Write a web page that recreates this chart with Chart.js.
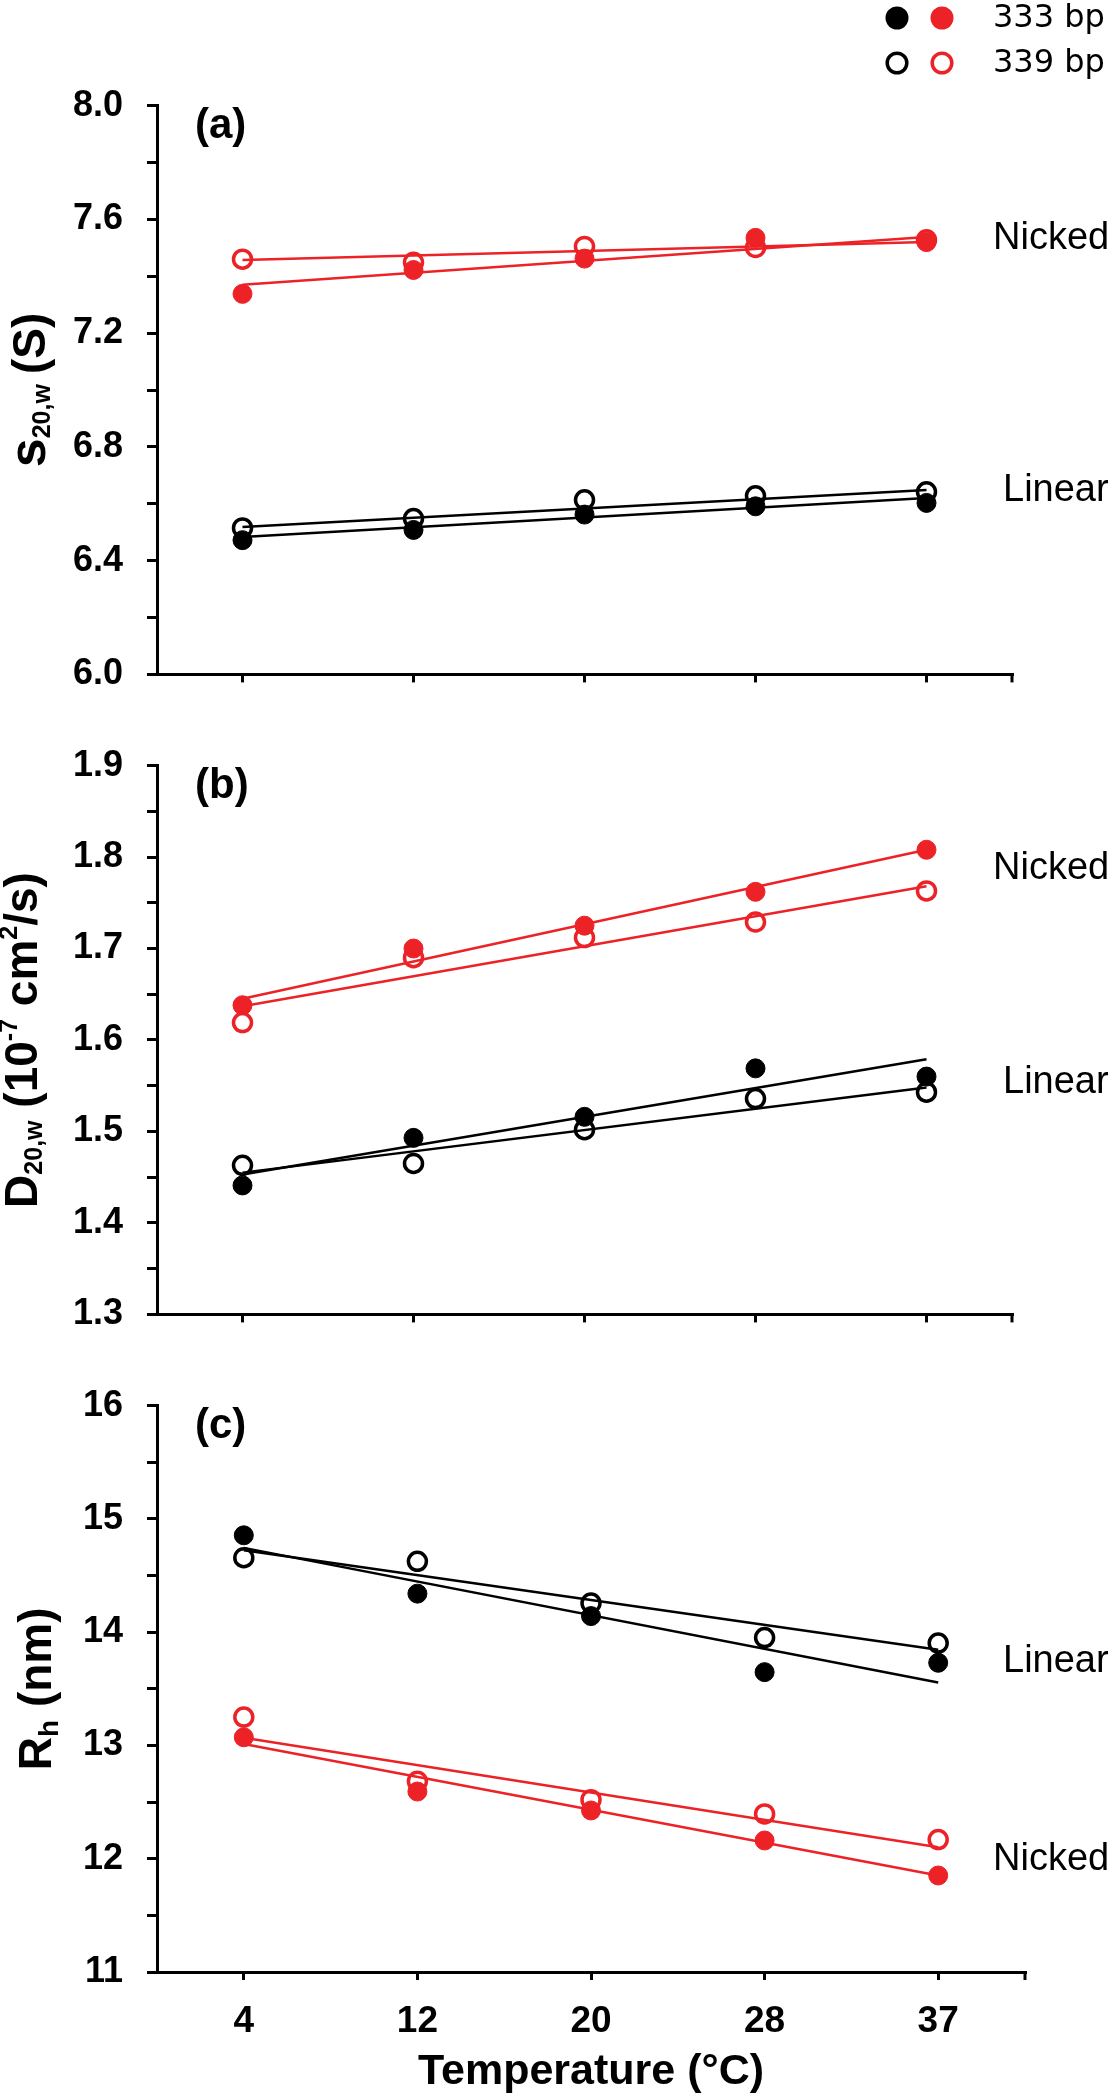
<!DOCTYPE html>
<html>
<head>
<meta charset="utf-8">
<script src="https://cdn.jsdelivr.net/npm/chart.js@4.4.1/dist/chart.umd.min.js"></script>
<style>
  html, body { margin: 0; padding: 0; background: #fff; }
  body { width: 1116px; height: 2100px; position: relative; overflow: hidden; }
  canvas { position: absolute; left: 0; display: block; }
</style>
</head>
<body>
<canvas id="chartA" width="1116" height="720" style="top:0px"></canvas>
<canvas id="chartB" width="1116" height="640" style="top:720px"></canvas>
<canvas id="chartC" width="1116" height="740" style="top:1360px"></canvas>
<script>
const temps = ["4", "12", "20", "28", "37"];

// (a) s20,w (S)
const sNicked333 = [7.338, 7.422, 7.462, 7.535, 7.520];
const sNicked339 = [7.460, 7.449, 7.505, 7.501, 7.528];
const sLinear333 = [6.472, 6.508, 6.562, 6.591, 6.603];
const sLinear339 = [6.515, 6.548, 6.614, 6.628, 6.642];
const sFitNicked333 = [7.370, 7.538];
const sFitNicked339 = [7.457, 7.520];
const sFitLinear333 = [6.483, 6.620];
const sFitLinear339 = [6.518, 6.648];

// (b) D20,w (10^-7 cm2/s)
const dNicked333 = [1.638, 1.700, 1.725, 1.762, 1.808];
const dNicked339 = [1.619, 1.690, 1.712, 1.729, 1.763];
const dLinear333 = [1.441, 1.493, 1.516, 1.569, 1.560];
const dLinear339 = [1.463, 1.465, 1.502, 1.536, 1.543];
const dFitNicked333 = [1.645, 1.808];
const dFitNicked339 = [1.637, 1.768];
const dFitLinear333 = [1.453, 1.579];
const dFitLinear339 = [1.455, 1.548];

// (c) Rh (nm)
const rLinear333 = [14.855, 14.340, 14.142, 13.647, 13.730];
const rLinear339 = [14.657, 14.625, 14.257, 13.952, 13.904];
const rNicked333 = [13.072, 12.593, 12.426, 12.161, 11.852];
const rNicked339 = [13.250, 12.684, 12.521, 12.395, 12.169];
const rFitLinear333 = [14.744, 13.556];
const rFitLinear339 = [14.724, 13.845];
const rFitNicked333 = [13.013, 11.852];
const rFitNicked339 = [13.068, 12.101];

const RED = "#ec2227";
const BLACK = "#000000";
const SANS = "'Liberation Sans', Arial, sans-serif";
const WIDE = "'DejaVu Sans', Verdana, sans-serif";

function points(values, color, filled) {
  return {
    data: values,
    showLine: false,
    order: 1,
    pointRadius: filled ? 9.5 : 9,
    pointBorderWidth: filled ? 1 : 3.5,
    pointBorderColor: color,
    pointBackgroundColor: filled ? color : "transparent"
  };
}

function fitLine(ends, color) {
  return {
    data: [ends[0], null, null, null, ends[1]],
    spanGaps: true,
    order: 2,
    borderColor: color,
    borderWidth: 2.5,
    pointRadius: 0,
    fill: false
  };
}

// rotated axis title with sub/superscripts: [text, size, baselineShift]
function richTitle(ctx, parts, x, y) {
  const widths = [];
  let total = 0;
  parts.forEach(p => {
    ctx.font = "bold " + p[1] + "px " + SANS;
    const w = ctx.measureText(p[0]).width;
    widths.push(w);
    total += w;
  });
  ctx.save();
  ctx.translate(x, y);
  ctx.rotate(-Math.PI / 2);
  ctx.fillStyle = BLACK;
  ctx.textAlign = "left";
  ctx.textBaseline = "alphabetic";
  let cx = -total / 2;
  parts.forEach((p, i) => {
    ctx.font = "bold " + p[1] + "px " + SANS;
    ctx.fillText(p[0], cx, p[2]);
    cx += widths[i];
  });
  ctx.restore();
}

const decor = {
  id: "decor",
  afterDraw(chart, args, opts) {
    const ctx = chart.ctx;
    const area = chart.chartArea;
    const y = chart.scales.y;
    ctx.save();
    // end tick on the x axis
    ctx.strokeStyle = BLACK;
    ctx.lineWidth = 3;
    ctx.beginPath();
    ctx.moveTo(area.right, area.bottom);
    ctx.lineTo(area.right, area.bottom + 8);
    ctx.stroke();

    // panel letter
    ctx.fillStyle = BLACK;
    ctx.font = "bold 42px " + SANS;
    ctx.textAlign = "left";
    ctx.textBaseline = "middle";
    ctx.fillText(opts.letter, 195, area.top + 21);

    // series group labels
    ctx.font = "38px " + SANS;
    opts.sideLabels.forEach(l => {
      ctx.fillText(l.text, l.x, y.getPixelForValue(l.value));
    });

    richTitle(ctx, opts.title, opts.titleX, (area.top + area.bottom) / 2);

    if (opts.legend) {
      const rows = [["333 bp", 18, true], ["339 bp", 63, false]];
      rows.forEach(r => {
        [[897, BLACK], [942, RED]].forEach(m => {
          ctx.beginPath();
          if (r[2]) {
            ctx.arc(m[0], r[1], 11.5, 0, Math.PI * 2);
            ctx.fillStyle = m[1];
            ctx.fill();
          } else {
            ctx.arc(m[0], r[1], 9.8, 0, Math.PI * 2);
            ctx.strokeStyle = m[1];
            ctx.lineWidth = 3.5;
            ctx.stroke();
          }
        });
        ctx.fillStyle = BLACK;
        ctx.font = "32px " + WIDE;
        ctx.textBaseline = "middle";
        ctx.fillText(r[0], 993, r[1] + 1);
      });
    }
    ctx.restore();
  }
};

function makePanel(id, cfg) {
  return new Chart(document.getElementById(id), {
    type: "line",
    data: {
      labels: temps,
      datasets: cfg.datasets
    },
    plugins: [decor],
    options: {
      responsive: false,
      animation: false,
      events: [],
      layout: { padding: { top: cfg.top, right: cfg.right, left: 0, bottom: 0 } },
      plugins: {
        legend: { display: false },
        tooltip: { enabled: false },
        decor: cfg.decor
      },
      scales: {
        x: {
          type: "category",
          offset: true,
          afterFit: s => { s.height = cfg.xHeight; },
          border: { display: true, color: BLACK, width: 3 },
          grid: { drawOnChartArea: false, drawTicks: true, tickLength: 8, lineWidth: 3, tickColor: BLACK },
          ticks: {
            display: !!cfg.xLabels,
            padding: 20,
            maxRotation: 0,
            color: BLACK,
            font: { family: SANS, weight: "bold", size: 37 }
          },
          title: {
            display: !!cfg.xLabels,
            text: "Temperature (°C)",
            color: BLACK,
            font: { family: SANS, weight: "bold", size: 43 },
            padding: { top: 0, bottom: 2 }
          }
        },
        y: {
          min: cfg.min,
          max: cfg.max,
          afterFit: s => { s.width = 157; },
          border: { display: true, color: BLACK, width: 3 },
          grid: { drawOnChartArea: false, drawTicks: true, tickLength: 10, lineWidth: 3, tickColor: BLACK },
          ticks: {
            stepSize: cfg.step,
            autoSkip: false,
            padding: 24,
            color: BLACK,
            font: { family: SANS, weight: "bold", size: 36 },
            callback: (v, i) => (i % 2 === 0 ? cfg.fmt(v) : "")
          }
        }
      }
    }
  });
}

makePanel("chartA", {
  top: 105.6, right: 104, xHeight: 34.5,
  min: 6, max: 8, step: 0.2, fmt: v => v.toFixed(1),
  datasets: [
    points(sNicked333, RED, true),
    points(sNicked339, RED, false),
    points(sLinear333, BLACK, true),
    points(sLinear339, BLACK, false),
    fitLine(sFitNicked333, RED),
    fitLine(sFitNicked339, RED),
    fitLine(sFitLinear333, BLACK),
    fitLine(sFitLinear339, BLACK)
  ],
  decor: {
    letter: "(a)",
    legend: true,
    titleX: 45,
    title: [["s", 52, 0], ["20,w", 25, 5], [" ", 36, 0], ["(S)", 46, 0]],
    sideLabels: [
      { text: "Nicked", x: 993, value: 7.533 },
      { text: "Linear", x: 1003, value: 6.647 }
    ]
  }
});

makePanel("chartB", {
  top: 30, right: 104, xHeight: 30.5,
  min: 1.3, max: 1.9, step: 0.05, fmt: v => v.toFixed(1),
  datasets: [
    points(dNicked333, RED, true),
    points(dNicked339, RED, false),
    points(dLinear333, BLACK, true),
    points(dLinear339, BLACK, false),
    fitLine(dFitNicked333, RED),
    fitLine(dFitNicked339, RED),
    fitLine(dFitLinear333, BLACK),
    fitLine(dFitLinear339, BLACK)
  ],
  decor: {
    letter: "(b)",
    titleX: 37,
    title: [["D", 46, 0], ["20,w", 25, 5], [" (10", 46, 0], ["-7", 25, -20], [" cm", 46, 0], ["2", 25, -20], ["/s)", 46, 0]],
    sideLabels: [
      { text: "Nicked", x: 993, value: 1.788 },
      { text: "Linear", x: 1003, value: 1.554 }
    ]
  }
});

makePanel("chartC", {
  top: 33, right: 91, xHeight: 128, xLabels: true,
  min: 11, max: 16, step: 0.5, fmt: v => String(Math.round(v)),
  datasets: [
    points(rLinear333, BLACK, true),
    points(rLinear339, BLACK, false),
    points(rNicked333, RED, true),
    points(rNicked339, RED, false),
    fitLine(rFitLinear333, BLACK),
    fitLine(rFitLinear339, BLACK),
    fitLine(rFitNicked333, RED),
    fitLine(rFitNicked339, RED)
  ],
  decor: {
    letter: "(c)",
    titleX: 51,
    title: [["R", 46, 0], ["h", 28, 7], [" (nm)", 46, 0]],
    sideLabels: [
      { text: "Linear", x: 1003, value: 13.737 },
      { text: "Nicked", x: 993, value: 11.993 }
    ]
  }
});
</script>
</body>
</html>
